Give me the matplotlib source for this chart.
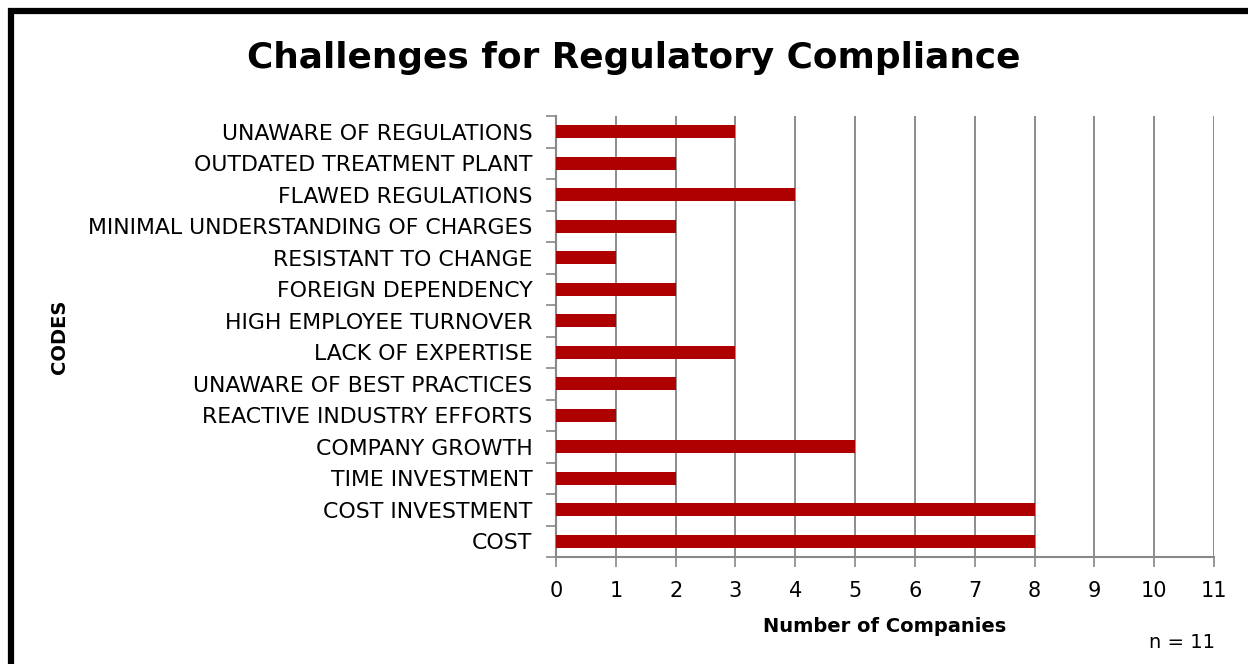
import matplotlib.pyplot as plt
from matplotlib.patches import Rectangle

codes = [
    "COST",
    "COST INVESTMENT",
    "TIME INVESTMENT",
    "COMPANY GROWTH",
    "REACTIVE INDUSTRY EFFORTS",
    "UNAWARE OF BEST PRACTICES",
    "LACK OF EXPERTISE",
    "HIGH EMPLOYEE TURNOVER",
    "FOREIGN DEPENDENCY",
    "RESISTANT TO CHANGE",
    "MINIMAL UNDERSTANDING OF CHARGES",
    "FLAWED REGULATIONS",
    "OUTDATED TREATMENT PLANT",
    "UNAWARE OF REGULATIONS",
]
companies = [8, 8, 2, 5, 1, 2, 3, 1, 2, 1, 2, 4, 2, 3]
x_ticks = list(range(0, 12))

plt.rcParams['font.family'] = ['DejaVu Sans']

fig = plt.figure(figsize=(12.48, 6.64), dpi=100)
ax = fig.add_axes([556 / 1248, 1 - 557 / 664, (1214 - 556) / 1248, (557 - 116) / 664])

# outer frame (runs off the right and bottom edges)
fig.patches.append(Rectangle((11 / 1248, -0.1), 1.2, 1 - 11 / 664 + 0.1,
                             transform=fig.transFigure, fill=False,
                             edgecolor='black', linewidth=4.5, zorder=10))

pos = list(range(len(codes)))
ax.barh(pos, companies, height=0.4, color='#AE0000', zorder=3)

ax.set_xlim(0, 11)
ax.set_ylim(-0.5, len(codes) - 0.5)
ax.set_xticks(x_ticks)
ax.set_xticklabels([str(t) for t in x_ticks], fontsize=15)
ax.set_yticks(pos)
ax.set_yticklabels(codes, fontsize=15.8)
ax.tick_params(axis='y', length=0, pad=17)
# tick marks between categories
ax.set_yticks([p - 0.5 for p in pos] + [len(codes) - 0.5], minor=True)
ax.tick_params(axis='y', which='minor', length=7, color='#888888', width=1.2)
ax.tick_params(axis='x', length=7, color='#888888', width=1.2, pad=10)

ax.grid(axis='x', color='#8c8c8c', linewidth=1.4, zorder=0)
for s in ['top', 'right']:
    ax.spines[s].set_visible(False)
for s in ['left', 'bottom']:
    ax.spines[s].set_color('#888888')
    ax.spines[s].set_linewidth(1.5)

ax.set_xlabel('Number of Companies', fontsize=14, fontweight='bold', labelpad=12)
fig.text(60 / 1248, 1 - 337 / 664, 'CODES', rotation=90, fontsize=14,
         fontweight='bold', ha='center', va='center')
fig.text(634 / 1248, 1 - 58 / 664, 'Challenges for Regulatory Compliance',
         fontsize=25.8, fontweight='bold', ha='center', va='center')
fig.text(1215 / 1248, 1 - 643 / 664, 'n = 11', fontsize=14, ha='right', va='center')

fig.savefig('out.png', dpi=100)
